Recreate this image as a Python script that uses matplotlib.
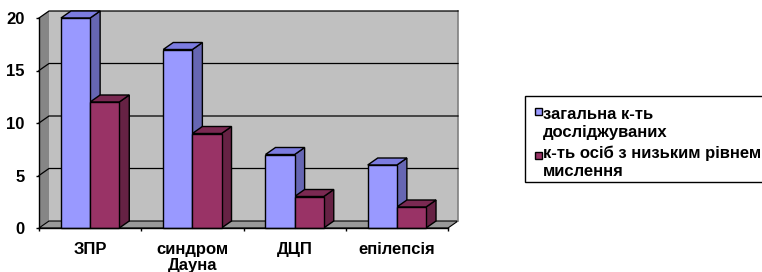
import matplotlib.pyplot as plt
from matplotlib.patches import Polygon, Rectangle

plt.rcParams['font.family'] = ['Liberation Sans', 'DejaVu Sans']
plt.rcParams['font.weight'] = 'bold'

categories = ['ЗПР', 'синдром\nДауна', 'ДЦП', 'епілепсія']
total = [20, 17, 7, 6]
low = [12, 9, 3, 2]
series_names = ['загальна к-ть\nдосліджуваних', 'к-ть осіб з низьким рівнем\nмислення']
yticks = [0, 5, 10, 15, 20]

W, H = 762, 272
fig = plt.figure(figsize=(W / 100, H / 100), dpi=100)
# plot area in pixels: x from 39 to 448, y (top-down) from 18 to 228
ax = fig.add_axes([39 / W, (H - 228) / H, (448 - 39) / W, 210 / H])
ax.set_xlim(-0.5, 3.5)
ax.set_ylim(0, 20)
ax.patch.set_alpha(0)

# depth offset, pixels -> data units
DX = 10 / (409 / 4)
DY = 7 / 10.5

# walls and floor
ax.add_patch(Polygon([(-0.5 + DX, DY), (3.5 + DX, DY), (3.5 + DX, 20 + DY), (-0.5 + DX, 20 + DY)],
                     closed=True, fc='#c0c0c0', ec='none', clip_on=False, zorder=0))
ax.plot([3.5 + DX, 3.5 + DX], [DY, 20 + DY], color='#808080', lw=1.2, clip_on=False, zorder=1)
ax.add_patch(Polygon([(-0.5, 0), (-0.5 + DX, DY), (-0.5 + DX, 20 + DY), (-0.5, 20)],
                     closed=True, fc='#868686', ec='none', clip_on=False, zorder=0))
ax.add_patch(Polygon([(-0.5, 0), (3.5, 0), (3.5 + DX, DY), (-0.5 + DX, DY)],
                     closed=True, fc='#999999', ec='black', lw=0.8, clip_on=False, zorder=0))

# gridlines on side and back wall
for v in yticks[1:]:
    ax.plot([-0.5, -0.5 + DX, 3.5 + DX], [v, v + DY, v + DY], color='black', lw=0.9,
            clip_on=False, zorder=1)

bw = 0.285
styles = [('#9999ff', '#7c7ce0', '#6666b3'), ('#993366', '#7a2952', '#662244')]
for i in range(len(categories)):
    for j, vals in enumerate([total, low]):
        x0 = i - bw + j * bw
        x1 = x0 + bw
        v = vals[i]
        front, top, side = styles[j]
        ax.add_patch(Polygon([(x1, 0), (x1 + DX, DY), (x1 + DX, v + DY), (x1, v)],
                             closed=True, fc=side, ec='black', lw=1, clip_on=False, zorder=2))
        ax.add_patch(Polygon([(x0, v), (x1, v), (x1 + DX, v + DY), (x0 + DX, v + DY)],
                             closed=True, fc=top, ec='black', lw=1, clip_on=False, zorder=2))
        ax.bar(x0, v, width=bw, align='edge', color=front, edgecolor='black', lw=1,
               clip_on=False, zorder=3)

for s in ['top', 'right']:
    ax.spines[s].set_visible(False)
ax.spines['left'].set_linewidth(1)
ax.spines['bottom'].set_linewidth(1)
ax.spines['left'].set_zorder(4)
ax.spines['bottom'].set_zorder(4)

ax.set_yticks(yticks)
ax.set_yticklabels([str(t) for t in yticks], fontsize=12, fontweight='bold')
ax.tick_params(axis='y', length=2.2, width=1, pad=8)
ax.set_xticks(range(len(categories)))
ax.set_xticklabels(categories, fontsize=12, fontweight='bold', linespacing=1.12)
ax.set_xticks([-0.5, 0.5, 1.5, 2.5, 3.5], minor=True)
ax.tick_params(axis='x', which='major', length=0, pad=10)
ax.tick_params(axis='x', which='minor', length=2.5, width=1)

# legend
fig.add_artist(Rectangle((525 / W, (H - 182) / H), 250 / W, 86 / H, transform=fig.transFigure,
                         fc='white', ec='black', lw=1))
markers_y = [111, 155]
last_baselines = [137, 176]
for k, name in enumerate(series_names):
    yy = markers_y[k]
    fig.add_artist(Rectangle((535 / W, (H - yy - 3.5) / H), 6.5 / W, 6.5 / H,
                             transform=fig.transFigure, fc=styles[k][0], ec='black', lw=1))
    fig.text(543 / W, (H - last_baselines[k]) / H, name, fontsize=12, fontweight='bold',
             va='baseline', ha='left', linespacing=1.22)

fig.savefig('out.png', dpi=100)
